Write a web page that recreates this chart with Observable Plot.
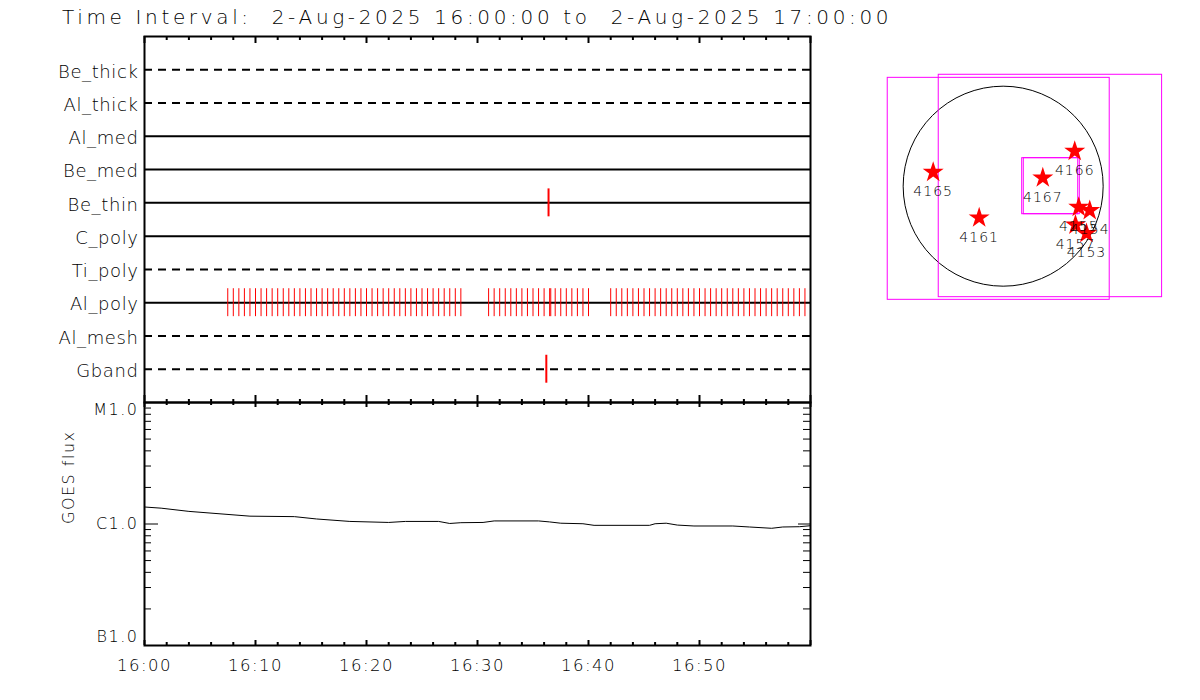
<!DOCTYPE html>
<html>
<head>
<meta charset="utf-8">
<script src="https://cdn.jsdelivr.net/npm/d3@7"></script>
<script src="https://cdn.jsdelivr.net/npm/@observablehq/plot@0.6"></script>
<style>
  body { margin: 0; background: #fff; }
  #root { position: relative; width: 1200px; height: 700px; overflow: hidden; font-family: "DejaVu Sans", sans-serif; }
  #root > * { position: absolute; }
  #title { left: 62px; top: 5px; font-size: 20px; line-height: 24px; letter-spacing: 3.65px; white-space: pre; font-weight: 200; color: #000; }
</style>
</head>
<body>
<div id="root"><div id="title"></div></div>
<script>
// ---------------- data ----------------
const day = "2025-08-02";
const titleText = "Time Interval:  2-Aug-2025 16:00:00 to  2-Aug-2025 17:00:00";
const startTime = "16:00:00";
const endTime = "17:00:00";

const filters = ["Be_thick", "Al_thick", "Al_med", "Be_med", "Be_thin", "C_poly", "Ti_poly", "Al_poly", "Al_mesh", "Gband"];
const dashedFilters = ["Be_thick", "Al_thick", "Ti_poly", "Al_mesh", "Gband"];

const alPolyTimes = [
  "16:07:30","16:08:00","16:08:30","16:09:00","16:09:30","16:10:00","16:10:30","16:11:00","16:11:30","16:12:00",
  "16:12:30","16:13:00","16:13:30","16:14:00","16:14:30","16:15:00","16:15:30","16:16:00","16:16:30","16:17:00",
  "16:17:30","16:18:00","16:18:30","16:19:00","16:19:30","16:20:00","16:20:30","16:21:00","16:21:30","16:22:00",
  "16:22:30","16:23:00","16:23:30","16:24:00","16:24:30","16:25:00","16:25:30","16:26:00","16:26:30","16:27:00",
  "16:27:30","16:28:00","16:28:30",
  "16:31:00","16:31:30","16:32:00","16:32:30","16:33:00","16:33:30","16:34:00","16:34:30","16:35:00","16:35:30",
  "16:36:00","16:36:30","16:36:36","16:37:00","16:37:30","16:38:00","16:38:30","16:39:00","16:39:30","16:40:00",
  "16:42:00","16:42:30","16:43:00","16:43:30","16:44:00","16:44:30","16:45:00","16:45:30","16:46:00","16:46:30",
  "16:47:00","16:47:30","16:48:00","16:48:30","16:49:00","16:49:30","16:50:00","16:50:30","16:51:00","16:51:30",
  "16:52:00","16:52:30","16:53:00","16:53:30","16:54:00","16:54:30","16:55:00","16:55:30","16:56:00","16:56:30",
  "16:57:00","16:57:30","16:58:00","16:58:30","16:59:00","16:59:30"
];
const beThinTimes = ["16:36:24"];
const gbandTimes = ["16:36:12"];

const goesTimes = ["16:00:00","16:01:30","16:04:00","16:09:30","16:13:30","16:15:30","16:18:30","16:22:00","16:23:30","16:26:30",
  "16:27:30","16:28:30","16:30:30","16:31:30","16:35:30","16:36:30","16:37:30","16:39:30","16:40:30","16:45:30",
  "16:46:00","16:47:00","16:48:00","16:49:30","16:53:00","16:54:30","16:56:30","16:57:30","16:59:00","17:00:00"];
const goesFlux = [1.38e-6,1.35e-6,1.27e-6,1.16e-6,1.15e-6,1.10e-6,1.05e-6,1.03e-6,1.05e-6,1.05e-6,
  1.01e-6,1.025e-6,1.03e-6,1.06e-6,1.06e-6,1.04e-6,1.015e-6,1.005e-6,0.975e-6,0.975e-6,
  1.005e-6,1.015e-6,0.98e-6,0.963e-6,0.963e-6,0.945e-6,0.922e-6,0.945e-6,0.95e-6,0.968e-6];

const goesClassValues = [1e-7, 1e-6, 1e-5];
const goesClassLabels = ["B1.0", "C1.0", "M1.0"];
const goesMinorValues = [2e-7,3e-7,4e-7,5e-7,6e-7,7e-7,8e-7,9e-7,2e-6,3e-6,4e-6,5e-6,6e-6,7e-6,8e-6,9e-6];
const xTickLabels = ["16:00", "16:10", "16:20", "16:30", "16:40", "16:50"];

// Solar map (arcsec)
const solarRadius = 946;
const regionIds = ["4165", "4161", "4167", "4166", "4155", "4154", "4157", "4153"];
const regionX = [-662, -227, 375, 677, 715, 819, 684, 788];
const regionY = [132, -299, 79, 331, -199, -230, -367, -447];
const fovCenterX = [-42, 447, 445, 460];
const fovCenterY = [-25, 2, 0, 0];
const fovWidth = [2100, 2113, 530, 530];
const fovHeight = [2100, 2104, 530, 530];

// ---------------- build ----------------
const P = s => new Date(`${day}T${s}Z`);
const t0 = P(startTime), t1 = P(endTime);
const root = document.getElementById("root");
document.getElementById("title").textContent = titleText;

const allTicks = d3.utcMinute.every(2).range(t0, d3.utcMinute.offset(t1, 1));
const majorTicks = allTicks.filter(d => d.getUTCMinutes() % 10 === 0);
const minorTicks = allTicks.filter(d => d.getUTCMinutes() % 10 !== 0);

const W = 830, mL = 144, mR = 20;
const pw = W - mL - mR;

// Top panel: filter timeline
const H1 = 404, mT1 = 36, mB1 = 2, ph1 = H1 - mT1 - mB1;
const rowOf = f => filters.indexOf(f) + 1;
const thinEvents = alPolyTimes.map(t => ({f: "Al_poly", t: P(t)}));
const thickEvents = [...beThinTimes.map(t => ({f: "Be_thin", t: P(t)})), ...gbandTimes.map(t => ({f: "Gband", t: P(t)}))];

const topPlot = Plot.plot({
  width: W, height: H1, marginTop: mT1, marginBottom: mB1, marginLeft: mL, marginRight: mR,
  x: {type: "utc", domain: [t0, t1], axis: null},
  y: {domain: [0, filters.length + 1], reverse: true, axis: null},
  style: {background: "transparent", fontFamily: "DejaVu Sans", letterSpacing: "0.6px", overflow: "visible"},
  marks: [
    Plot.ruleY(filters.filter(f => !dashedFilters.includes(f)), {y: rowOf, stroke: "black", strokeWidth: 2}),
    Plot.ruleY(filters.filter(f => dashedFilters.includes(f)), {y: rowOf, stroke: "black", strokeWidth: 2, strokeDasharray: "8,6"}),
    Plot.ruleX(thinEvents, {x: "t", y1: d => rowOf(d.f) - 0.42, y2: d => rowOf(d.f) + 0.42, stroke: "red", strokeWidth: 1}),
    Plot.ruleX(thickEvents, {x: "t", y1: d => rowOf(d.f) - 0.42, y2: d => rowOf(d.f) + 0.42, stroke: "red", strokeWidth: 2}),
    Plot.ruleX(minorTicks, {x: d => d, insetBottom: ph1 - 4, stroke: "black", strokeWidth: 2}),
    Plot.ruleX(majorTicks, {x: d => d, insetBottom: ph1 - 7, stroke: "black", strokeWidth: 2}),
    Plot.frame({stroke: "black", strokeWidth: 2}),
    Plot.text(filters, {y: rowOf, text: d => d, frameAnchor: "left", textAnchor: "end", dx: -6, dy: 2, fontSize: 18, fontWeight: 200, fill: "black"})
  ]
});
topPlot.style.left = "0px"; topPlot.style.top = "0px";
root.appendChild(topPlot);

// Bottom panel: GOES flux
const H2 = 320, mT2 = 22, mB2 = 55, ph2 = H2 - mT2 - mB2;
const goes = goesTimes.map((t, i) => ({t: P(t), v: goesFlux[i]}));
const classes = goesClassValues.map((v, i) => ({v, label: goesClassLabels[i]}));

const bottomPlot = Plot.plot({
  width: W, height: H2, marginTop: mT2, marginBottom: mB2, marginLeft: mL, marginRight: mR,
  x: {type: "utc", domain: [t0, t1], axis: null},
  y: {type: "log", domain: [goesClassValues[0], goesClassValues[2]], axis: null},
  style: {background: "transparent", fontFamily: "DejaVu Sans", letterSpacing: "1.5px", overflow: "visible"},
  marks: [
    Plot.line(goes, {x: "t", y: "v", stroke: "black", strokeWidth: 1}),
    Plot.ruleY(goesMinorValues, {y: d => d, insetRight: pw - 7, stroke: "black", strokeWidth: 1}),
    Plot.ruleY(goesMinorValues, {y: d => d, insetLeft: pw - 7, stroke: "black", strokeWidth: 1}),
    Plot.ruleY([goesClassValues[1]], {y: d => d, insetRight: pw - 14, stroke: "black", strokeWidth: 1}),
    Plot.ruleY([goesClassValues[1]], {y: d => d, insetLeft: pw - 12, stroke: "black", strokeWidth: 1}),
    Plot.ruleX(minorTicks, {x: d => d, insetTop: -3, insetBottom: ph2 - 3, stroke: "black", strokeWidth: 2}),
    Plot.ruleX(majorTicks, {x: d => d, insetTop: -7, insetBottom: ph2 - 5, stroke: "black", strokeWidth: 2}),
    Plot.ruleX(minorTicks, {x: d => d, insetTop: ph2 - 3, stroke: "black", strokeWidth: 2}),
    Plot.ruleX(majorTicks, {x: d => d, insetTop: ph2 - 5, stroke: "black", strokeWidth: 2}),
    Plot.frame({stroke: "black", strokeWidth: 2}),
    Plot.text(classes.filter(d => d.label === "C1.0"), {y: "v", text: "label", frameAnchor: "left", textAnchor: "end", dx: -6, fontSize: 16, fontWeight: 200}),
    Plot.text(classes.filter(d => d.label === "M1.0"), {y: "v", text: "label", frameAnchor: "left", textAnchor: "end", dx: -6, dy: 7, fontSize: 16, fontWeight: 200}),
    Plot.text(classes.filter(d => d.label === "B1.0"), {y: "v", text: "label", frameAnchor: "left", textAnchor: "end", dx: -6, dy: -9, fontSize: 16, fontWeight: 200}),
    Plot.text(xTickLabels, {x: d => P(d + ":00"), text: d => d, frameAnchor: "bottom", dy: 25, fontSize: 16.5, fontWeight: 200}),
    Plot.text(["GOES flux"], {text: d => d, frameAnchor: "left", rotate: -90, dx: -76, fontSize: 16, fontWeight: 200})
  ]
});
bottomPlot.style.left = "0px"; bottomPlot.style.top = "380px";
root.appendChild(bottomPlot);

// Right panel: solar disk map
const mapW = 300, mapH = 250;
const mapX = [-1255, 1583], mapY = [-1176, 1189];
const pxPerArc = mapW / (mapX[1] - mapX[0]);
const regions = regionIds.map((id, i) => ({id, x: regionX[i], y: regionY[i]}));
const fovs = fovCenterX.map((cx, i) => ({
  x1: cx - fovWidth[i] / 2, x2: cx + fovWidth[i] / 2,
  y1: fovCenterY[i] - fovHeight[i] / 2, y2: fovCenterY[i] + fovHeight[i] / 2
}));
const diskCenter = [{x: 0, y: 0}];

const mapPlot = Plot.plot({
  width: mapW, height: mapH, marginTop: 0, marginBottom: 0, marginLeft: 0, marginRight: 0,
  x: {domain: mapX, axis: null},
  y: {domain: mapY, axis: null},
  style: {background: "transparent", fontFamily: "DejaVu Sans", letterSpacing: "1px", overflow: "visible"},
  marks: [
    Plot.dot(diskCenter, {x: "x", y: "y", r: solarRadius * pxPerArc, stroke: "black", strokeWidth: 1, fill: "none"}),
    Plot.rect(fovs, {x1: "x1", x2: "x2", y1: "y1", y2: "y2", stroke: "#ff00ff", strokeWidth: 1, fill: "none"}),
    Plot.dot(regions, {x: "x", y: "y", symbol: "star", r: 6.6, fill: "red", stroke: "none"}),
    Plot.text(regions, {x: "x", y: "y", text: "id", dy: 19.5, fontSize: 14, fontWeight: 200, fill: "black"})
  ]
});
mapPlot.style.left = "870px"; mapPlot.style.top = "60px";
root.appendChild(mapPlot);
</script>
</body>
</html>
